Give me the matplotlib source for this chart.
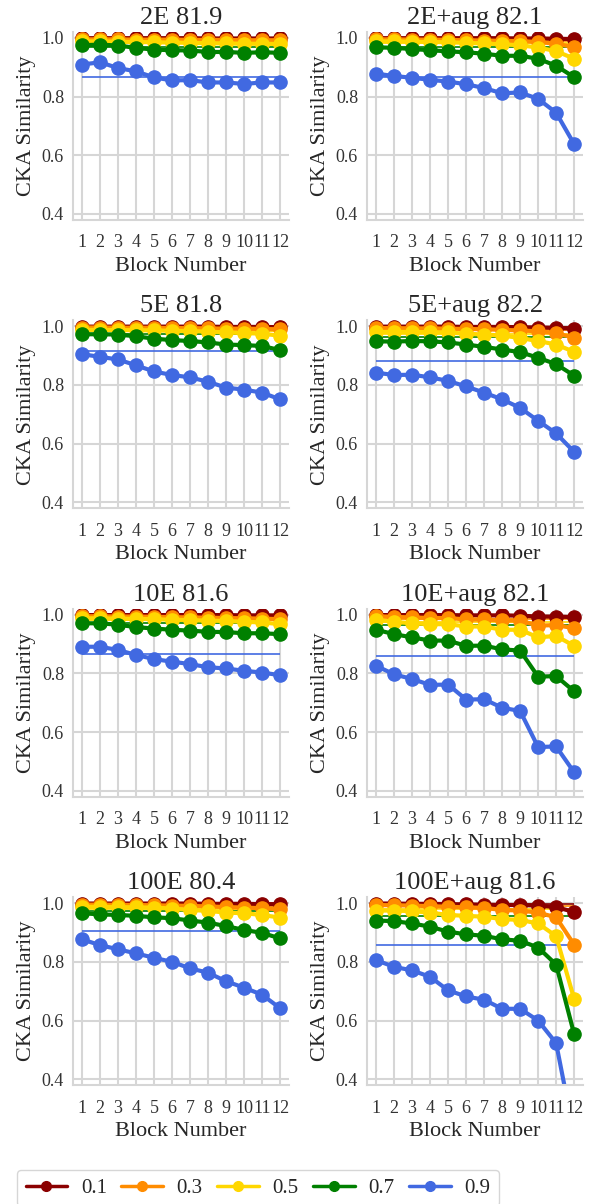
import numpy as np
import matplotlib
matplotlib.use("Agg")
import matplotlib.pyplot as plt
from matplotlib.lines import Line2D
import seaborn as sns

sns.set_style("whitegrid")
plt.rcParams['font.family'] = ['Liberation Serif', 'DejaVu Serif']

blocks = np.arange(1, 13)
ratios = ["0.1", "0.3", "0.5", "0.7", "0.9"]
colors = ["darkred", "darkorange", "gold", "green", "royalblue"]
titles = ["2E 81.9", "2E+aug 82.1", "5E 81.8", "5E+aug 82.2",
          "10E 81.6", "10E+aug 82.1", "100E 80.4", "100E+aug 81.6"]

# CKA similarity per block, one list per mask ratio (0.1, 0.3, 0.5, 0.7, 0.9)
cka_2e = [
    [0.999, 0.999, 0.999, 0.999, 0.999, 0.999, 0.999, 0.998, 0.998, 0.998, 0.998, 0.998],
    [0.995, 0.995, 0.995, 0.994, 0.994, 0.994, 0.993, 0.993, 0.993, 0.992, 0.992, 0.992],
    [0.988, 0.988, 0.987, 0.986, 0.985, 0.984, 0.983, 0.982, 0.981, 0.980, 0.980, 0.979],
    [0.975, 0.977, 0.974, 0.966, 0.960, 0.958, 0.957, 0.952, 0.952, 0.949, 0.951, 0.949],
    [0.909, 0.917, 0.897, 0.886, 0.865, 0.855, 0.856, 0.848, 0.848, 0.843, 0.848, 0.848],
]
cka_2e_aug = [
    [0.999, 0.999, 0.999, 0.999, 0.999, 0.999, 0.999, 0.999, 0.998, 0.998, 0.997, 0.996],
    [0.995, 0.995, 0.994, 0.994, 0.993, 0.992, 0.991, 0.990, 0.989, 0.986, 0.980, 0.969],
    [0.988, 0.988, 0.987, 0.986, 0.985, 0.983, 0.981, 0.978, 0.975, 0.967, 0.955, 0.929],
    [0.968, 0.966, 0.962, 0.958, 0.954, 0.951, 0.946, 0.939, 0.939, 0.929, 0.905, 0.866],
    [0.878, 0.870, 0.864, 0.857, 0.851, 0.842, 0.829, 0.811, 0.814, 0.792, 0.745, 0.638],
]
cka_5e = [
    [0.999, 0.999, 0.999, 0.999, 0.999, 0.999, 0.999, 0.999, 0.998, 0.998, 0.998, 0.997],
    [0.996, 0.996, 0.995, 0.995, 0.995, 0.994, 0.994, 0.993, 0.992, 0.992, 0.991, 0.990],
    [0.988, 0.988, 0.987, 0.987, 0.986, 0.985, 0.984, 0.982, 0.979, 0.977, 0.975, 0.968],
    [0.973, 0.973, 0.972, 0.966, 0.958, 0.953, 0.950, 0.945, 0.938, 0.936, 0.933, 0.919],
    [0.905, 0.896, 0.887, 0.867, 0.846, 0.834, 0.826, 0.811, 0.791, 0.784, 0.774, 0.751],
]
cka_5e_aug = [
    [0.999, 0.999, 0.999, 0.999, 0.999, 0.998, 0.998, 0.998, 0.997, 0.996, 0.995, 0.992],
    [0.994, 0.994, 0.993, 0.993, 0.992, 0.991, 0.990, 0.988, 0.986, 0.983, 0.977, 0.961],
    [0.981, 0.981, 0.981, 0.980, 0.979, 0.975, 0.972, 0.969, 0.960, 0.950, 0.938, 0.913],
    [0.949, 0.948, 0.950, 0.949, 0.945, 0.938, 0.930, 0.921, 0.912, 0.893, 0.871, 0.832],
    [0.842, 0.834, 0.835, 0.826, 0.814, 0.795, 0.774, 0.751, 0.722, 0.678, 0.635, 0.572],
]
cka_10e = [
    [0.999, 0.999, 0.999, 0.999, 0.999, 0.999, 0.999, 0.999, 0.999, 0.998, 0.998, 0.998],
    [0.995, 0.995, 0.994, 0.994, 0.993, 0.992, 0.991, 0.990, 0.989, 0.988, 0.987, 0.985],
    [0.988, 0.988, 0.987, 0.986, 0.985, 0.983, 0.982, 0.980, 0.979, 0.976, 0.974, 0.968],
    [0.971, 0.971, 0.966, 0.958, 0.953, 0.949, 0.946, 0.942, 0.941, 0.937, 0.937, 0.934],
    [0.891, 0.891, 0.880, 0.863, 0.849, 0.840, 0.832, 0.821, 0.817, 0.809, 0.803, 0.794],
]
cka_10e_aug = [
    [0.999, 0.999, 0.999, 0.999, 0.999, 0.998, 0.998, 0.998, 0.997, 0.994, 0.994, 0.992],
    [0.995, 0.993, 0.991, 0.989, 0.989, 0.984, 0.984, 0.981, 0.980, 0.963, 0.965, 0.954],
    [0.983, 0.976, 0.971, 0.968, 0.968, 0.960, 0.960, 0.949, 0.949, 0.923, 0.928, 0.894],
    [0.949, 0.934, 0.923, 0.912, 0.912, 0.894, 0.895, 0.882, 0.878, 0.789, 0.791, 0.739],
    [0.826, 0.797, 0.781, 0.761, 0.762, 0.711, 0.712, 0.683, 0.672, 0.549, 0.551, 0.463],
]
cka_100e = [
    [0.999, 0.999, 0.999, 0.999, 0.999, 0.999, 0.999, 0.998, 0.998, 0.998, 0.997, 0.997],
    [0.995, 0.995, 0.994, 0.994, 0.993, 0.992, 0.991, 0.989, 0.987, 0.985, 0.983, 0.979],
    [0.988, 0.988, 0.987, 0.986, 0.985, 0.982, 0.977, 0.974, 0.968, 0.966, 0.960, 0.951],
    [0.966, 0.962, 0.960, 0.957, 0.952, 0.949, 0.941, 0.934, 0.922, 0.909, 0.899, 0.880],
    [0.877, 0.857, 0.843, 0.829, 0.814, 0.800, 0.778, 0.763, 0.734, 0.712, 0.688, 0.642],
]
cka_100e_aug = [
    [0.999, 0.999, 0.998, 0.998, 0.997, 0.996, 0.995, 0.994, 0.994, 0.992, 0.987, 0.970],
    [0.994, 0.993, 0.992, 0.990, 0.988, 0.986, 0.984, 0.977, 0.975, 0.968, 0.952, 0.859],
    [0.975, 0.975, 0.973, 0.968, 0.960, 0.957, 0.954, 0.946, 0.943, 0.931, 0.888, 0.674],
    [0.941, 0.939, 0.931, 0.920, 0.903, 0.894, 0.889, 0.877, 0.872, 0.849, 0.791, 0.554],
    [0.806, 0.783, 0.771, 0.749, 0.703, 0.682, 0.671, 0.640, 0.640, 0.600, 0.523, 0.210],
]
all_cka = [cka_2e, cka_2e_aug, cka_5e, cka_5e_aug,
           cka_10e, cka_10e_aug, cka_100e, cka_100e_aug]

# thin reference level per mask ratio in each panel
ref_2e = [0.998, 0.992, 0.984, 0.969, 0.866]
ref_2e_aug = [0.998, 0.990, 0.982, 0.968, 0.866]
ref_5e = [0.998, 0.993, 0.985, 0.975, 0.916]
ref_5e_aug = [0.997, 0.988, 0.975, 0.964, 0.881]
ref_10e = [0.998, 0.991, 0.982, 0.971, 0.866]
ref_10e_aug = [0.997, 0.986, 0.975, 0.966, 0.861]
ref_100e = [0.998, 0.990, 0.980, 0.973, 0.904]
ref_100e_aug = [0.996, 0.990, 0.980, 0.958, 0.857]
all_ref = [ref_2e, ref_2e_aug, ref_5e, ref_5e_aug,
           ref_10e, ref_10e_aug, ref_100e, ref_100e_aug]

fig, axes = plt.subplots(4, 2, figsize=(5.89, 12.04), dpi=100)
fig.subplots_adjust(left=0.124, right=0.99, top=0.9734, bottom=0.0988,
                    hspace=0.537, wspace=0.361)

grid_c = '#d6d6d6'
for k, ax in enumerate(axes.flat):
    # reference levels go underneath the curves
    for s in range(5):
        ax.hlines(all_ref[k][s], blocks[0], blocks[-1], color=colors[s], lw=1.2, zorder=1.5)
    for s in range(5):
        ax.plot(blocks, all_cka[k][s], color=colors[s], lw=3, marker='o', ms=9.5, zorder=2)
    ax.set_xlim(0.5, 12.5)
    ax.set_ylim(0.38, 1.02)
    ax.set_xticks(blocks)
    ax.set_yticks([0.4, 0.6, 0.8, 1.0])
    ax.tick_params(axis='x', labelsize=13, pad=7, colors='#333333')
    ax.tick_params(axis='y', labelsize=13, pad=3, colors='#333333')
    ax.set_title(titles[k], fontsize=19, color='#262626')
    ax.set_xlabel("Block Number", fontsize=16, color='#262626')
    ax.set_ylabel("CKA Similarity", fontsize=16, color='#262626')
    ax.grid(True, color=grid_c, lw=1.5)
    ax.spines['top'].set_visible(False)
    ax.spines['right'].set_visible(False)
    ax.spines['left'].set_color(grid_c)
    ax.spines['bottom'].set_color(grid_c)
    ax.spines['left'].set_linewidth(1.5)
    ax.spines['bottom'].set_linewidth(1.5)

handles = [Line2D([0], [0], color=c, lw=2.5, marker='o', ms=7) for c in colors]
fig.legend(handles, ratios, loc='center', ncol=5, fontsize=15,
           bbox_to_anchor=(258 / 589, 1 - 1188 / 1204), handlelength=2.0,
           handletextpad=0.65, columnspacing=0.7, frameon=True, edgecolor='#cccccc')

fig.savefig("out.png", dpi=100)
